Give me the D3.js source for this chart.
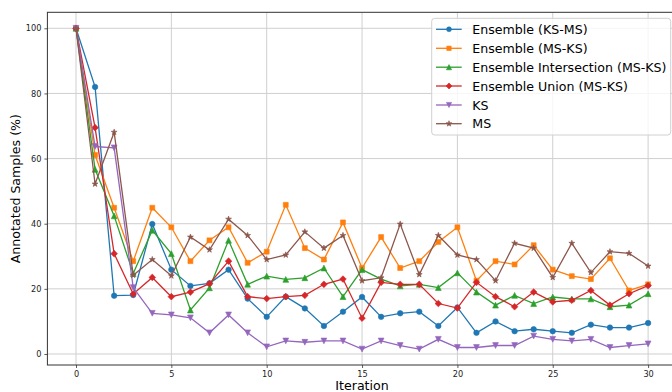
<!DOCTYPE html>
<html>
<head>
<meta charset="utf-8">
<script src="https://cdn.jsdelivr.net/npm/d3@7"></script>
<style>
html,body{margin:0;padding:0;background:#fff;overflow:hidden;}
svg{display:block;font-family:"DejaVu Sans",sans-serif;}
</style>
</head>
<body>
<svg id="chart" width="672" height="392"></svg>
<script>
const iterations = d3.range(0, 31);
const seriesNames = ["Ensemble (KS-MS)", "Ensemble (MS-KS)", "Ensemble Intersection (MS-KS)", "Ensemble Union (MS-KS)", "KS", "MS"];
const seriesColors = ["#1f77b4", "#ff7f0e", "#2ca02c", "#d62728", "#9467bd", "#8c564b"];
const seriesMarkers = ["circle", "square", "triangleUp", "diamond", "triangleDown", "star"];

const ensembleKSMS = [100, 82.0, 17.9, 18.1, 39.9, 25.9, 20.9, 21.7, 25.9, 17.0, 11.4, 17.6, 14.0, 8.6, 13.0, 17.5, 11.4, 12.5, 13.0, 8.6, 14.3, 6.5, 10.0, 7.0, 7.6, 7.0, 6.5, 9.0, 8.1, 8.1, 9.5];
const ensembleMSKS = [100, 61.1, 44.9, 28.5, 44.9, 38.9, 28.5, 34.9, 38.9, 28.0, 31.4, 45.8, 32.5, 29.0, 40.4, 26.4, 35.9, 26.4, 28.5, 34.4, 38.9, 22.5, 28.5, 27.5, 33.4, 25.9, 23.9, 23.0, 29.4, 19.5, 21.4];
const ensembleIntersection = [100, 56.7, 42.4, 24.7, 38.0, 30.8, 13.5, 20.3, 34.9, 21.4, 23.9, 22.9, 23.4, 26.4, 17.6, 25.9, 23.0, 20.9, 21.4, 20.4, 24.9, 19.0, 15.0, 18.0, 15.5, 17.5, 16.9, 16.9, 14.5, 15.0, 18.5];
const ensembleUnion = [100, 69.5, 30.8, 18.4, 23.5, 17.6, 19.0, 21.6, 28.5, 17.6, 17.0, 17.6, 18.0, 21.4, 23.0, 11.0, 22.0, 21.4, 21.4, 15.5, 14.1, 22.0, 17.6, 14.5, 19.0, 16.0, 16.5, 19.5, 15.0, 18.5, 21.0];
const ksValues = [100, 63.7, 63.3, 20.4, 12.5, 12.0, 11.1, 6.5, 12.0, 6.5, 2.2, 4.0, 3.6, 4.0, 4.0, 1.5, 4.0, 2.6, 1.5, 4.5, 2.0, 2.0, 2.6, 2.6, 5.5, 4.5, 4.0, 4.5, 2.0, 2.6, 3.1];
const msValues = [100, 52.2, 68.1, 24.2, 29.0, 24.0, 35.9, 32.0, 41.4, 36.4, 29.0, 30.4, 37.5, 32.5, 36.4, 22.5, 23.4, 39.9, 24.4, 36.4, 30.4, 29.0, 22.5, 34.0, 32.5, 23.5, 34.0, 25.0, 31.4, 30.9, 27.0];
const allSeries = [ensembleKSMS, ensembleMSKS, ensembleIntersection, ensembleUnion, ksValues, msValues];

const xTicks = [0, 5, 10, 15, 20, 25, 30];
const yTicks = [0, 20, 40, 60, 80, 100];
const xLabel = "Iteration";
const yLabel = "Annotated Samples (%)";

(function () {
const svg = d3.select("#chart");
const pLeft = 47.4, pRight = 676.7, pTop = 12.3, pBottom = 365;
const x = d3.scaleLinear().domain([-1.5, 31.5]).range([pLeft, pRight]);
const y = d3.scaleLinear().domain([-3.38, 104.91]).range([pBottom, pTop]);

// grid
const grid = svg.append("g");
grid.selectAll("line.gx").data(xTicks).join("line").attr("class", "gx")
  .attr("x1", d => x(d)).attr("x2", d => x(d)).attr("y1", pTop).attr("y2", pBottom)
  .attr("stroke", "#cfcfcf").attr("stroke-width", 1);
grid.selectAll("line.gy").data(yTicks).join("line").attr("class", "gy")
  .attr("y1", d => y(d)).attr("y2", d => y(d)).attr("x1", pLeft).attr("x2", pRight)
  .attr("stroke", "#cfcfcf").attr("stroke-width", 1);

// axes
const xAxis = d3.axisBottom(x).tickValues(xTicks).tickSize(3).tickPadding(3).tickFormat(d3.format("d"));
const yAxis = d3.axisLeft(y).tickValues(yTicks).tickSize(3).tickPadding(3).tickFormat(d3.format("d"));
const gx = svg.append("g").attr("transform", `translate(0,${pBottom})`).call(xAxis);
const gy = svg.append("g").attr("transform", `translate(${pLeft},0)`).call(yAxis);
[gx, gy].forEach(g => {
  g.select(".domain").remove();
  g.selectAll(".tick line").attr("stroke", "#333").attr("stroke-width", 0.8);
  g.selectAll(".tick text").attr("fill", "#222").style("font-size", "8.2px").style("font-family", "DejaVu Sans");
});

// spines
svg.append("rect").attr("x", pLeft).attr("y", pTop).attr("width", pRight - pLeft).attr("height", pBottom - pTop)
  .attr("fill", "none").attr("stroke", "#333").attr("stroke-width", 1);

// marker paths
function markerPath(type, s) {
  const p = d3.path();
  if (type === "circle") { p.arc(0, 0, s * 0.95, 0, 2 * Math.PI); }
  else if (type === "square") { const h = s * 0.85; p.rect(-h, -h, 2 * h, 2 * h); }
  else if (type === "triangleUp") { const h = s; p.moveTo(0, -h); p.lineTo(h, h); p.lineTo(-h, h); p.closePath(); }
  else if (type === "triangleDown") { const h = s; p.moveTo(0, h); p.lineTo(h, -h); p.lineTo(-h, -h); p.closePath(); }
  else if (type === "diamond") { const h = s * 1.15; p.moveTo(0, -h); p.lineTo(h, 0); p.lineTo(0, h); p.lineTo(-h, 0); p.closePath(); }
  else if (type === "star") {
    const ro = s * 1.15, ri = ro * 0.4;
    for (let i = 0; i < 10; i++) {
      const r = i % 2 === 0 ? ro : ri;
      const a = -Math.PI / 2 + i * Math.PI / 5;
      if (i === 0) p.moveTo(r * Math.cos(a), r * Math.sin(a)); else p.lineTo(r * Math.cos(a), r * Math.sin(a));
    }
    p.closePath();
  }
  return p.toString();
}

const line = d3.line().x((d, i) => x(iterations[i])).y(d => y(d));
const plot = svg.append("g");
allSeries.forEach((vals, si) => {
  const g = plot.append("g");
  g.append("path").datum(vals).attr("d", line).attr("fill", "none")
    .attr("stroke", seriesColors[si]).attr("stroke-width", 1.3);
  g.selectAll("path.m").data(vals).join("path").attr("class", "m")
    .attr("transform", (d, i) => `translate(${x(iterations[i])},${y(d)})`)
    .attr("d", markerPath(seriesMarkers[si], si === 5 ? 2.7 : 2.9))
    .attr("fill", seriesColors[si]).attr("stroke", seriesColors[si]).attr("stroke-width", 0.6);
});

// labels
svg.append("text").attr("x", (pLeft + pRight) / 2).attr("y", 389.8).attr("text-anchor", "middle")
  .style("font-size", "12.6px").attr("fill", "#000").text(xLabel);
svg.append("text").attr("transform", `translate(19.5,${(pTop + pBottom) / 2}) rotate(-90)`).attr("text-anchor", "middle")
  .style("font-size", "12.6px").attr("fill", "#000").text(yLabel);

// legend
const lg = svg.append("g");
lg.append("rect").attr("x", 431.7).attr("y", 18.3).attr("width", 239).attr("height", 116.7)
  .attr("rx", 3).attr("fill", "#fff").attr("fill-opacity", 0.8).attr("stroke", "#d0d0d0").attr("stroke-width", 1);
const rowY = [29.3, 48.3, 67.2, 86.0, 105.0, 123.7];
seriesNames.forEach((name, si) => {
  const ry = rowY[si];
  lg.append("line").attr("x1", 436).attr("x2", 461.7).attr("y1", ry).attr("y2", ry)
    .attr("stroke", seriesColors[si]).attr("stroke-width", 1.3);
  lg.append("path").attr("transform", `translate(449,${ry})`).attr("d", markerPath(seriesMarkers[si], 2.6))
    .attr("fill", seriesColors[si]).attr("stroke", seriesColors[si]).attr("stroke-width", 0.6);
  lg.append("text").attr("x", 472.3).attr("y", ry + 4.5).style("font-size", "12.6px").attr("fill", "#000").text(name);
});
})();
</script>
</body>
</html>
